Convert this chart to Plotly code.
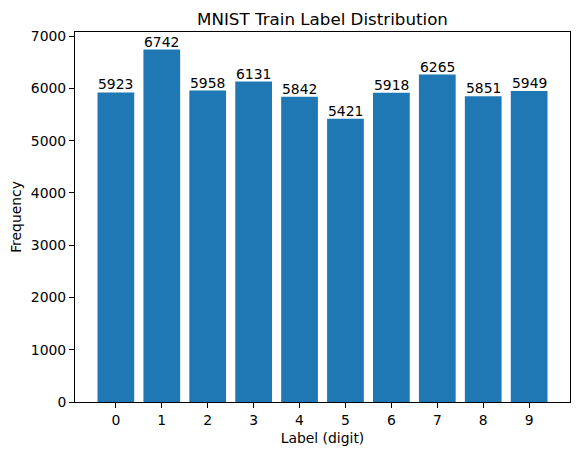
import plotly.graph_objects as go

# MNIST training label counts
labels = [0, 1, 2, 3, 4, 5, 6, 7, 8, 9]
counts = [5923, 6742, 5958, 6131, 5842, 5421, 5918, 6265, 5851, 5949]
yticks = [0, 1000, 2000, 3000, 4000, 5000, 6000, 7000]

font = dict(family="DejaVu Sans", size=13.9, color="black")

fig = go.Figure()
fig.add_trace(go.Bar(
    x=labels, y=counts, width=0.8,
    marker=dict(color="#1f77b4", line=dict(width=0)),
    hoverinfo="x+y",
))

# count labels just above each bar
for lab, c in zip(labels, counts):
    fig.add_annotation(x=lab, y=c, text=str(c), showarrow=False,
                       yanchor="bottom", yshift=-2, font=font)

axis = dict(showline=True, linecolor="black", linewidth=1, mirror=True,
            ticks="outside", ticklen=5, tickcolor="black", tickwidth=1,
            showgrid=False, zeroline=False, tickfont=font, automargin=False)

# page body has an 8px margin, so the figure is 8px smaller than the window
fig.update_layout(
    width=572, height=447,
    margin=dict(l=67, r=10, t=24, b=53),
    plot_bgcolor="white", paper_bgcolor="white",
    font=font, showlegend=False,
    title=dict(text="MNIST Train Label Distribution", x=0.5, xref="paper",
               y=1, yref="paper", yanchor="bottom", xanchor="center",
               pad=dict(b=7), automargin=False,
               font=dict(family="DejaVu Sans", size=16.7, color="black")),
    xaxis=dict(axis, range=[-0.89, 9.89], tickvals=labels,
               title=dict(text="Label (digit)", standoff=6, font=font)),
    yaxis=dict(axis, range=[0, 7079], tickvals=yticks,
               title=dict(text="Frequency", standoff=8, font=font)),
)

fig.write_html("out.html")
